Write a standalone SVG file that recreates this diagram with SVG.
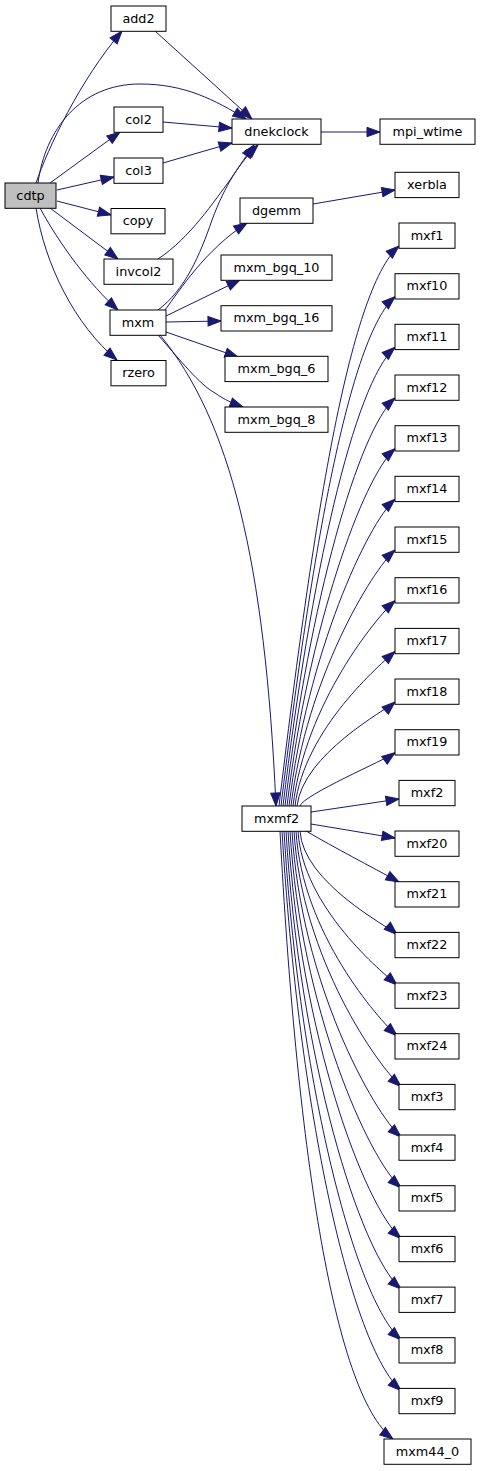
<svg xmlns="http://www.w3.org/2000/svg" width="480" height="1471" viewBox="0 0 480 1471">
<style>
.n rect{fill:#ffffff;stroke:#000000;stroke-width:1}
.r rect{fill:#bfbfbf}
.n text{font-family:"DejaVu Sans","Liberation Sans",sans-serif;font-size:12.8px;fill:#000000;text-anchor:middle}
.e path{fill:none;stroke:#191970;stroke-width:1;marker-end:url(#a)}
</style>
<defs>
<marker id="a" markerUnits="userSpaceOnUse" markerWidth="14" markerHeight="11" refX="13" refY="5" orient="auto" viewBox="0 0 14 10" overflow="visible">
<path d="M0,0.3 L13,5 L0,9.7 z" fill="#191970" stroke="#191970" stroke-width="1"/>
</marker>
</defs>
<rect width="480" height="1471" fill="#ffffff"/>
<g id="edges" class="e">
<path d="M36,183 C48,148 80,80 122,31"/>
<path d="M38,183 C45,130 80,84 140,84 C185,84 215,100 246,119"/>
<path d="M155,31 L252,119"/>
<path d="M50,183 L120,132"/>
<path d="M57,190 L114,177"/>
<path d="M57,201 L111,215"/>
<path d="M50,208 L118,259"/>
<path d="M40,208 C60,245 90,285 118,310"/>
<path d="M36,208 C45,265 75,325 117,360"/>
<path d="M163,122 L232,128"/>
<path d="M163,163 L232,143"/>
<path d="M158,259 C190,238 215,200 230,180 C240,165 247,155 254,145"/>
<path d="M158,310 C185,290 200,255 212,220 C225,185 240,162 258,145"/>
<path d="M165,310 C180,290 205,250 247,223"/>
<path d="M166,316 L240,280"/>
<path d="M166,322 L221,321"/>
<path d="M166,332 L238,357"/>
<path d="M158,335 C180,360 200,385 215,393 C225,400 232,403 243,407"/>
<path d="M160,335 C230,420 265,560 276,806"/>
<path d="M321,132 L380,132"/>
<path d="M313,204 L395,190"/>
<path d="M279,806 C312.6,526 348.6,290.8 399,246"/>
<path d="M281,806 C311.6,551.4 349.2,337.4 395,296.7"/>
<path d="M283,806 C310.5,576.7 353.7,384 395,347.3"/>
<path d="M285,806 C309.5,602 358.3,430.6 395,398"/>
<path d="M287,806 C308.4,627.4 362.8,477.3 395,448.7"/>
<path d="M289,806 C307.4,652.7 367.4,523.8 395,499.3"/>
<path d="M291,806 C306.4,678 372,570.5 395,550"/>
<path d="M293,806 C305.3,703.4 376.5,617.1 395,600.7"/>
<path d="M295,806 C304.3,728.7 381.1,663.8 395,651.4"/>
<path d="M297,806 C303.2,754 385.6,710.3 395,702"/>
<path d="M300,806 C303,795 385,760 395,752.7"/>
<path d="M311,812 L399,799"/>
<path d="M311,824 L395,838"/>
<path d="M306,831 C335,848 370,866 399,882"/>
<path d="M300,831 C303.1,882.7 387.7,926.1 397,934.4"/>
<path d="M298,831 C302.6,908 383.1,972.7 397,985"/>
<path d="M296,831 C302.1,933.4 378.6,1019.3 397,1035.7"/>
<path d="M294,831 C301.7,958.7 378,1066 401,1086.4"/>
<path d="M292,831 C301.2,984 373.5,1112.5 401,1137"/>
<path d="M290,831 C300.7,1009.4 368.9,1159.2 401,1187.7"/>
<path d="M288,831 C300.2,1034.7 364.3,1205.8 401,1238.4"/>
<path d="M286,831 C299.7,1060 359.8,1252.5 401,1289.1"/>
<path d="M284,831 C299.3,1085.4 355.2,1299 401,1339.7"/>
<path d="M282,831 C298.8,1110.7 350.7,1345.6 401,1390.4"/>
<path d="M280,831 C296,1135 332,1393 393,1439"/>
</g>
<g id="cdtp" class="n r"><rect x="5" y="183" width="51" height="25.3"/><text x="30.5" y="199.5">cdtp</text></g>
<g id="add2" class="n"><rect x="111" y="6" width="55" height="25.3"/><text x="138.5" y="22.5">add2</text></g>
<g id="col2" class="n"><rect x="114" y="107" width="49" height="25.3"/><text x="138.5" y="123.5">col2</text></g>
<g id="col3" class="n"><rect x="114" y="158" width="49" height="25.3"/><text x="138.5" y="174.5">col3</text></g>
<g id="copy" class="n"><rect x="111" y="208.5" width="54" height="25.3"/><text x="138" y="225">copy</text></g>
<g id="invcol2" class="n"><rect x="104" y="259" width="69" height="25.3"/><text x="138.5" y="275.5">invcol2</text></g>
<g id="mxm" class="n"><rect x="110" y="310" width="56" height="25.3"/><text x="138" y="326.5">mxm</text></g>
<g id="rzero" class="n"><rect x="111" y="360.5" width="55" height="25.3"/><text x="138.5" y="377">rzero</text></g>
<g id="dnekclock" class="n"><rect x="232" y="119" width="89" height="25.3"/><text x="276.5" y="135.5">dnekclock</text></g>
<g id="mpi_wtime" class="n"><rect x="380" y="119" width="95" height="25.3"/><text x="427.5" y="135.5">mpi_wtime</text></g>
<g id="dgemm" class="n"><rect x="240" y="198" width="73" height="25.3"/><text x="276.5" y="214.5">dgemm</text></g>
<g id="xerbla" class="n"><rect x="395" y="172.3" width="64" height="25.3"/><text x="427" y="188.8">xerbla</text></g>
<g id="mxm_bgq_10" class="n"><rect x="221" y="255" width="111" height="25.3"/><text x="276.5" y="271.5">mxm_bgq_10</text></g>
<g id="mxm_bgq_16" class="n"><rect x="221" y="305.7" width="111" height="25.3"/><text x="276.5" y="322.2">mxm_bgq_16</text></g>
<g id="mxm_bgq_6" class="n"><rect x="225" y="356.3" width="103" height="25.3"/><text x="276.5" y="372.8">mxm_bgq_6</text></g>
<g id="mxm_bgq_8" class="n"><rect x="225" y="407" width="103" height="25.3"/><text x="276.5" y="423.5">mxm_bgq_8</text></g>
<g id="mxmf2" class="n"><rect x="242" y="806" width="69" height="25.3"/><text x="276.5" y="822.5">mxmf2</text></g>
<g id="mxf1" class="n"><rect x="399" y="223" width="56" height="25.3"/><text x="427" y="239.5">mxf1</text></g>
<g id="mxf10" class="n"><rect x="395" y="273.7" width="64" height="25.3"/><text x="427" y="290.2">mxf10</text></g>
<g id="mxf11" class="n"><rect x="395" y="324.3" width="64" height="25.3"/><text x="427" y="340.8">mxf11</text></g>
<g id="mxf12" class="n"><rect x="395" y="375" width="64" height="25.3"/><text x="427" y="391.5">mxf12</text></g>
<g id="mxf13" class="n"><rect x="395" y="425.7" width="64" height="25.3"/><text x="427" y="442.2">mxf13</text></g>
<g id="mxf14" class="n"><rect x="395" y="476.3" width="64" height="25.3"/><text x="427" y="492.8">mxf14</text></g>
<g id="mxf15" class="n"><rect x="395" y="527" width="64" height="25.3"/><text x="427" y="543.5">mxf15</text></g>
<g id="mxf16" class="n"><rect x="395" y="577.7" width="64" height="25.3"/><text x="427" y="594.2">mxf16</text></g>
<g id="mxf17" class="n"><rect x="395" y="628.4" width="64" height="25.3"/><text x="427" y="644.9">mxf17</text></g>
<g id="mxf18" class="n"><rect x="395" y="679" width="64" height="25.3"/><text x="427" y="695.5">mxf18</text></g>
<g id="mxf19" class="n"><rect x="395" y="729.7" width="64" height="25.3"/><text x="427" y="746.2">mxf19</text></g>
<g id="mxf2" class="n"><rect x="399" y="780.4" width="56" height="25.3"/><text x="427" y="796.9">mxf2</text></g>
<g id="mxf20" class="n"><rect x="395" y="831" width="64" height="25.3"/><text x="427" y="847.5">mxf20</text></g>
<g id="mxf21" class="n"><rect x="395" y="881.7" width="64" height="25.3"/><text x="427" y="898.2">mxf21</text></g>
<g id="mxf22" class="n"><rect x="395" y="932.4" width="64" height="25.3"/><text x="427" y="948.9">mxf22</text></g>
<g id="mxf23" class="n"><rect x="395" y="983" width="64" height="25.3"/><text x="427" y="999.5">mxf23</text></g>
<g id="mxf24" class="n"><rect x="395" y="1033.7" width="64" height="25.3"/><text x="427" y="1050.2">mxf24</text></g>
<g id="mxf3" class="n"><rect x="399" y="1084.4" width="56" height="25.3"/><text x="427" y="1100.9">mxf3</text></g>
<g id="mxf4" class="n"><rect x="399" y="1135" width="56" height="25.3"/><text x="427" y="1151.5">mxf4</text></g>
<g id="mxf5" class="n"><rect x="399" y="1185.7" width="56" height="25.3"/><text x="427" y="1202.2">mxf5</text></g>
<g id="mxf6" class="n"><rect x="399" y="1236.4" width="56" height="25.3"/><text x="427" y="1252.9">mxf6</text></g>
<g id="mxf7" class="n"><rect x="399" y="1287.1" width="56" height="25.3"/><text x="427" y="1303.6">mxf7</text></g>
<g id="mxf8" class="n"><rect x="399" y="1337.7" width="56" height="25.3"/><text x="427" y="1354.2">mxf8</text></g>
<g id="mxf9" class="n"><rect x="399" y="1388.4" width="56" height="25.3"/><text x="427" y="1404.9">mxf9</text></g>
<g id="mxm44_0" class="n"><rect x="384" y="1439" width="87" height="25.3"/><text x="427.5" y="1455.5">mxm44_0</text></g>
</svg>
